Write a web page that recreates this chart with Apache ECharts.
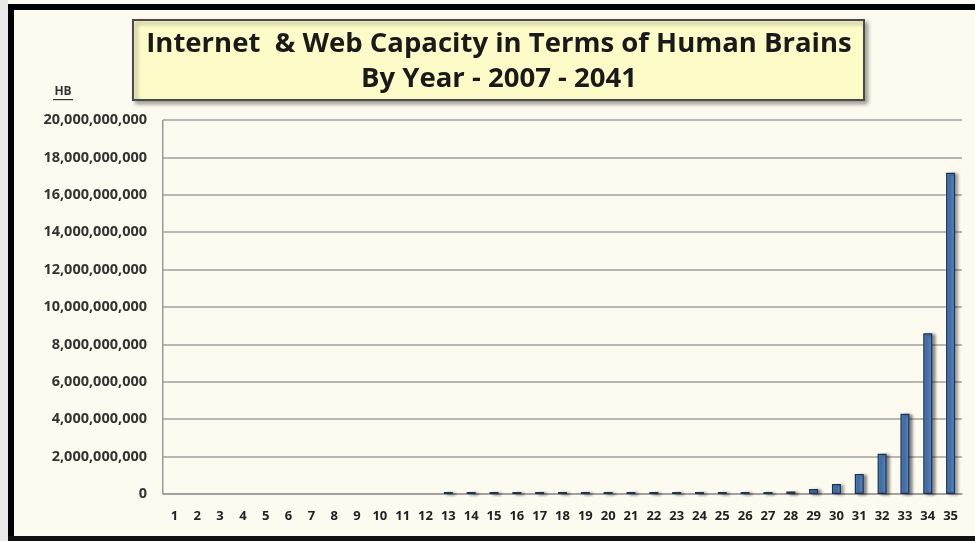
<!DOCTYPE html>
<html>
<head>
<meta charset="utf-8">
<script src="https://cdn.jsdelivr.net/npm/echarts@6/dist/echarts.min.js"></script>
<style>
  html, body { margin: 0; padding: 0; background: #fdfaf0; }
  #main { width: 975px; height: 541px; }
</style>
</head>
<body>
<div id="main"></div>
<script>
// year index 1..35 (2007 - 2041)
var years = ['1','2','3','4','5','6','7','8','9','10','11','12','13','14','15','16','17','18',
  '19','20','21','22','23','24','25','26','27','28','29','30','31','32','33','34','35'];
// human brains, doubling each year; 1-12 show no bar in the picture
var capacity = [null, null, null, null, null, null, null, null, null, null, null, null,
  4096, 8192, 16384, 32768, 65536, 131072, 262144, 524288, 1048576, 2097152, 4194304,
  8388608, 16777216, 33554432, 67108864, 134217728, 268435456, 536870912, 1073741824,
  2147483648, 4294967296, 8589934592, 17179869184];
var yTicks = [0, 2e9, 4e9, 6e9, 8e9, 10e9, 12e9, 14e9, 16e9, 18e9, 20e9];

var titleLines = ['Internet  & Web Capacity in Terms of Human Brains', 'By Year - 2007 - 2041'];

var chart = echarts.init(document.getElementById('main'));

function fmt(v){
  return String(v).replace(/\B(?=(\d{3})+(?!\d))/g, ',');
}

chart.setOption({
  backgroundColor: '#fdfaf0',
  animation: false,
  grid: { left: 163, right: 13, top: 120, bottom: 47, show: false },
  graphic: [
    // outer frame
    { type: 'rect', shape: { x: 0, y: 4, width: 975, height: 6 }, style: { fill: '#000' } },
    { type: 'rect', shape: { x: 8, y: 4, width: 6, height: 537 }, style: { fill: '#000' } },
    { type: 'rect', shape: { x: 8, y: 536, width: 967, height: 5 }, style: { fill: '#111' } },
    { type: 'rect', shape: { x: 0, y: 0, width: 8, height: 541 }, style: { fill: '#e8e8e8' } },
    // title box
    { type: 'rect', shape: { x: 133, y: 20, width: 731, height: 80 },
      style: { fill: '#fdfcc8', stroke: '#4a4a4a', lineWidth: 2,
        shadowColor: 'rgba(0,0,0,0.35)', shadowBlur: 4, shadowOffsetX: 3, shadowOffsetY: 3 } },
    { type: 'text', x: 499, y: 44,
      style: { text: titleLines[0], textAlign: 'center', textVerticalAlign: 'middle',
        font: 'bold 27.5px "Open Sans"', fill: '#1a1a1a' } },
    { type: 'text', x: 499, y: 79,
      style: { text: titleLines[1], textAlign: 'center', textVerticalAlign: 'middle',
        font: 'bold 27.5px "Open Sans"', fill: '#1a1a1a' } },
    // unit label
    { type: 'text', x: 63, y: 92,
      style: { text: 'HB', textAlign: 'center', textVerticalAlign: 'middle',
        font: 'bold 12px "Open Sans"', fill: '#333' } },
    { type: 'rect', shape: { x: 53, y: 99, width: 20, height: 1.2 }, style: { fill: '#333' } },
    // plot left border
    { type: 'rect', shape: { x: 162, y: 120, width: 1.5, height: 374 }, style: { fill: '#9a9a9a' } }
  ],
  xAxis: {
    type: 'category',
    data: years,
    axisLine: { show: true, lineStyle: { color: '#9a9a9a', width: 1.5 } },
    axisTick: { show: false },
    axisLabel: { interval: 0, margin: 16, color: '#222', fontWeight: 'bold', fontSize: 13,
      fontFamily: 'Open Sans' }
  },
  yAxis: {
    type: 'value',
    min: 0, max: 20e9, interval: 2e9,
    axisLine: { show: false },
    axisTick: { show: false },
    splitLine: { lineStyle: { color: '#a0a0a0', width: 1.5 } },
    axisLabel: { margin: 16, color: '#333', fontWeight: 'bold', fontSize: 14.5, fontFamily: 'Open Sans',
      formatter: function(v){ return yTicks.indexOf(v) >= 0 ? fmt(v) : ''; } }
  },
  series: [{
    type: 'bar',
    data: capacity,
    barWidth: 9,
    barMinHeight: 2,
    itemStyle: {
      color: '#4f7fbf',
      borderColor: '#1e3350',
      borderWidth: 1.2,
      shadowColor: 'rgba(0,0,0,0.45)',
      shadowBlur: 3,
      shadowOffsetX: 3,
      shadowOffsetY: 1
    }
  }]
});
</script>
</body>
</html>
